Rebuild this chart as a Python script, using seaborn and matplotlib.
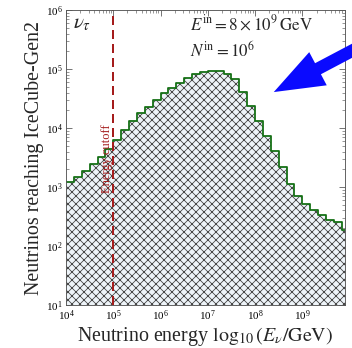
import numpy as np
import pandas as pd
import matplotlib
matplotlib.use("Agg")
import matplotlib.pyplot as plt
import seaborn as sns

# ---- data ----
log_e_min = 4.0          # first bin edge, log10(E/GeV)
log_e_max = 10.0         # last bin edge
bins_per_decade = 6
counts = [1220, 1470, 1870, 2460, 3210, 4400, 6250, 9270, 13200, 17900,
          22800, 29900, 39000, 47600, 58000, 70100, 82200, 89000, 92600, 92600,
          82200, 67800, 40600, 23600, 13200, 7330, 4070, 2180, 1120, 705,
          517, 406, 335, 276, 256, 186]
x_limits = [1e4, 8e9]
y_limits = [1e1, 1e6]
cutoff_energy = 1e5
xlabel = r"Neutrino energy $\log_{10}(E_\nu/\mathrm{GeV})$"
ylabel = "Neutrinos reaching IceCube-Gen2"
flavour_label = r"$\nu_\tau$"
ein_label = r"$E^{\mathrm{in}} = 8\times10^{9}\,\mathrm{GeV}$"
nin_label = r"$N^{\mathrm{in}} = 10^{6}$"
cutoff_label = "Energy cutoff"

binw = 1.0 / bins_per_decade
centers = log_e_min + binw * (np.arange(len(counts)) + 0.5)
df = pd.DataFrame({"energy": 10 ** centers, "n": counts})

sns.set_style("ticks")
plt.rcParams["font.family"] = ["Liberation Serif", "DejaVu Serif"]
plt.rcParams["mathtext.fontset"] = "stix"
plt.rcParams["hatch.linewidth"] = 0.8

fig = plt.figure(figsize=(352 / 72, 348 / 72), dpi=72)
ax = fig.add_axes([0.1875, 0.1236, 0.7925, 0.8474])

sns.histplot(data=df, x="energy", weights="n", log_scale=True,
             binwidth=binw, binrange=(log_e_min, log_e_max),
             element="step", fill=True, color="#eef4f9", alpha=1,
             edgecolor="#444444", linewidth=0, hatch="xxx", ax=ax)
sns.histplot(data=df, x="energy", weights="n", log_scale=True,
             binwidth=binw, binrange=(log_e_min, log_e_max),
             element="step", fill=False, color="#157015", linewidth=1.8, ax=ax)

ax.set_yscale("log")
ax.set_xlim(*x_limits)
ax.set_ylim(*y_limits)

ax.axvline(cutoff_energy, color="#a51c1c", ls=(0, (4.5, 2.5)), lw=2)
ax.text(cutoff_energy * 0.74, 780, cutoff_label, rotation=90, color="#a51c1c",
        fontsize=12.5, ha="center", va="bottom")

ax.text(0.025, 0.985, flavour_label, transform=ax.transAxes, fontsize=21,
        ha="left", va="top")
ax.text(0.445, 0.985, ein_label, transform=ax.transAxes, fontsize=17,
        ha="left", va="top")
ax.text(0.445, 0.895, nin_label, transform=ax.transAxes, fontsize=17,
        ha="left", va="top")

ax.annotate("", xy=(272, 348 - 93), xycoords="figure pixels",
            xytext=(380, 348 - 36), textcoords="figure pixels",
            arrowprops=dict(arrowstyle="simple,tail_width=0.5,head_width=1.5,head_length=2",
                            mutation_scale=25, color="#0a0aff", lw=0),
            annotation_clip=False)

ax.set_xlabel(xlabel, fontsize=20, labelpad=2)
ax.set_ylabel(ylabel, fontsize=20, labelpad=2)
ax.tick_params(which="both", direction="in", top=True, right=True,
               colors="#555555", labelcolor="black", labelsize=11)
ax.tick_params(which="major", length=6, width=0.8)
ax.tick_params(which="minor", length=3, width=0.6)
for s in ax.spines.values():
    s.set_color("#555555")
    s.set_linewidth(0.9)

fig.savefig("out.png", dpi=72)
